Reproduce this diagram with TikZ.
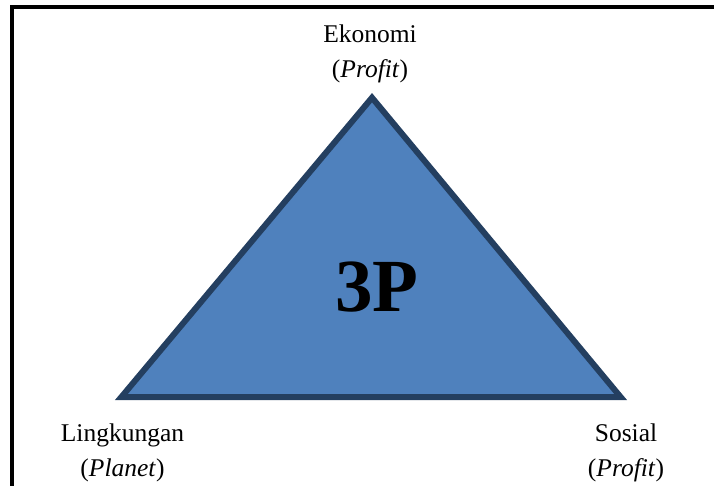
\documentclass[tikz,border=0pt]{standalone}
\usepackage{fontspec}
\setmainfont{Liberation Serif}
\begin{document}
\begin{tikzpicture}[
    x=1pt,
    y=-1pt,
    pillarlabel/.style={
        font=\fontsize{25.5}{34.5}\selectfont,
        align=center,
        anchor=base,
        inner sep=0pt
    },
    frameline/.style={
        draw=black,
        line width=4pt
    },
    triangleshape/.style={
        fill=triblue,
        draw=triedge,
        line width=6pt
    }
]
\useasboundingbox (0,0) rectangle (714,486);

% Define colors
\definecolor{triblue}{RGB}{79,129,189}
\definecolor{triedge}{RGB}{36,63,96}

% ============ FRAME ============
% only the top and left edges are shown
\draw[frameline] (714,7) -- (12,7) -- (12,486);

% ============ TRIANGLE ============
\coordinate (apex) at (372,97.7);
\coordinate (baseleft) at (121.4,397);
\coordinate (baseright) at (620.6,397);
\draw[triangleshape] (apex) -- (baseleft) -- (baseright) -- cycle;

\node[font=\bfseries\fontsize{75}{90}\selectfont, anchor=base, inner sep=0pt] (threep) at (376.7,311.7) {3P};

% ============ PILLAR LABELS ============
% anchor=base sits on the second line
\node[pillarlabel] (ekonomi) at (370,77.5) {Ekonomi\\(\textit{Profit})};
\node[pillarlabel] (lingkungan) at (122.5,476) {Lingkungan\\(\textit{Planet})};
\node[pillarlabel] (sosial) at (626,476) {Sosial\\(\textit{Profit})};

\end{tikzpicture}
\end{document}
